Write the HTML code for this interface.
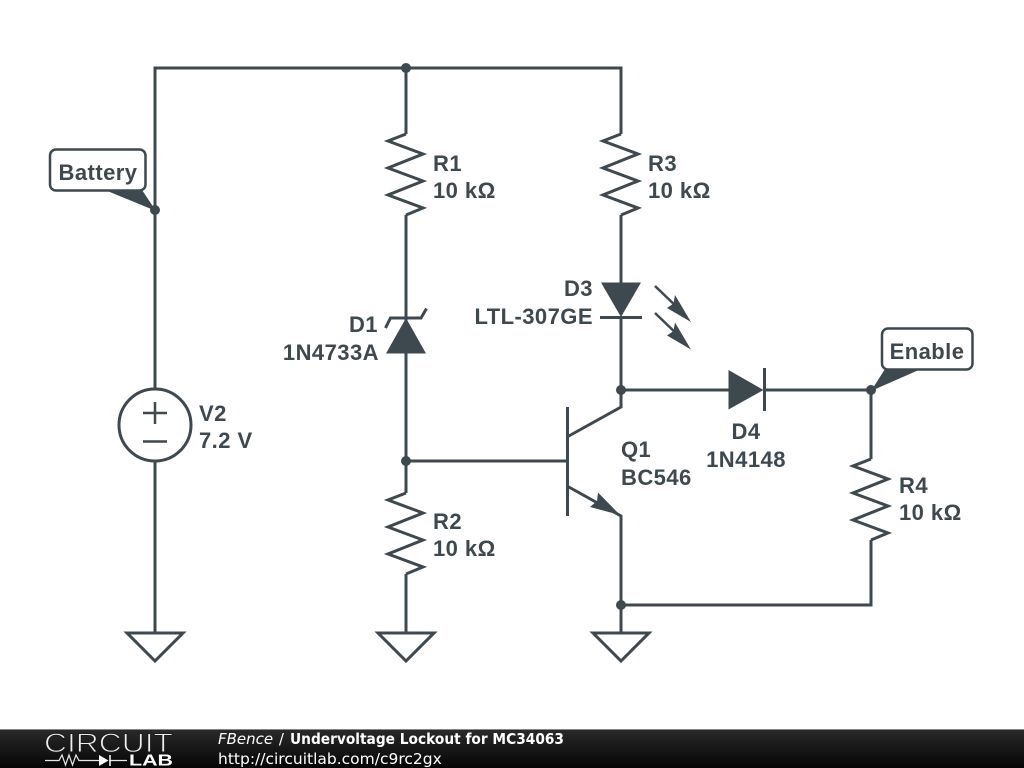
<!DOCTYPE html>
<html>
<head>
<meta charset="utf-8">
<style>
html,body{margin:0;padding:0;background:#fff;width:1024px;height:768px;overflow:hidden}
svg{display:block}
.w{fill:none;stroke:#3e484f;stroke-width:3;stroke-linejoin:miter}
.f{fill:#3e484f;stroke:none}
.t{font-family:"Liberation Sans",Arial,sans-serif;font-size:22px;font-weight:bold;fill:#3e484f;letter-spacing:.45px}
.e{text-anchor:end}
.m{text-anchor:middle}
.ft{font-family:"DejaVu Sans",sans-serif;font-size:15px;fill:#fff}
</style>
</head>
<body>
<svg width="1024" height="768" viewBox="0 0 1024 768" xmlns="http://www.w3.org/2000/svg">
<defs>
<linearGradient id="g" x1="0" y1="0" x2="0" y2="1"><stop offset="0" stop-color="#2a2a2a"/><stop offset="1" stop-color="#050505"/></linearGradient>
<polyline id="res" class="w" points="0,134 -18,141 17,154 -18,168 17,181 -18,195 17,208 0,215"/>
</defs>
<rect width="1024" height="768" fill="#fff"/>

<!-- wires -->
<path class="w" d="M155 389V68H621V134M406 68V134M155 461V633M406 215V493M406 574V633M621 215V285M621 317V407L567 437M567 486L621 516V633M406 461H567M621 390H730M764 390H871M871 390V459M871 540V605H621"/>
<use href="#res" x="406"/>
<use href="#res" x="621"/>
<use href="#res" x="406" y="359"/>
<use href="#res" x="871" y="325"/>

<!-- V2 -->
<circle class="w" cx="155" cy="425" r="36"/>
<path class="w" style="stroke-width:2.500" d="M143 413H167M155 402V424M143 441.500H167"/>

<!-- grounds -->
<path class="w" d="M127 633H183L155 661Z"/>
<path class="w" d="M378 633H434L406 661Z"/>
<path class="w" d="M593 633H649L621 661Z"/>

<!-- D1 -->
<path class="f" d="M386 353.500H426L406 318Z"/>
<path class="w" d="M385.500 328L390.500 318H421L426.500 308.500"/>

<!-- D3 -->
<path class="f" d="M601 282.500H641L621 317Z"/>
<path class="w" d="M600 317.500H642"/>
<path class="w" style="stroke-width:2.500" d="M655 286L680 310M655 313L680 337"/>
<path class="f" d="M691 322L675 295L673.500 303.500L667 308Z"/>
<path class="f" d="M691 349.500L675 322.500L673.500 331L667 335.500Z"/>

<!-- D4 -->
<path class="f" d="M728.500 370V409.500L763.500 390Z"/>
<path class="w" d="M764.500 368V411"/>

<!-- Q1 -->
<path class="w" d="M567.500 407V516"/>
<path class="f" d="M620 515L598 492.500L597 501L590 507Z"/>

<!-- nodes -->
<circle class="f" cx="406" cy="68" r="5"/>
<circle class="f" cx="155" cy="210" r="5"/>
<circle class="f" cx="406" cy="461" r="5"/>
<circle class="f" cx="621" cy="390" r="5"/>
<circle class="f" cx="621" cy="605" r="5"/>
<circle class="f" cx="871" cy="390" r="5"/>

<!-- net labels -->
<path class="f" d="M105 190H142L156 211Z"/>
<rect x="50" y="149.500" width="95.500" height="41" rx="6" fill="#fff" stroke="#3e484f" stroke-width="2.500"/>
<text class="t m" x="98" y="180">Battery</text>
<path class="f" d="M885 369H921L871 391Z"/>
<rect x="882" y="328.500" width="90.500" height="41" rx="6" fill="#fff" stroke="#3e484f" stroke-width="2.500"/>
<text class="t m" x="927" y="359">Enable</text>

<!-- labels -->
<text class="t" x="433" y="171">R1</text><text class="t" x="433" y="198">10 kΩ</text>
<text class="t" x="648" y="171">R3</text><text class="t" x="648" y="198">10 kΩ</text>
<text class="t" x="433" y="529">R2</text><text class="t" x="433" y="556">10 kΩ</text>
<text class="t" x="899" y="493">R4</text><text class="t" x="899" y="520">10 kΩ</text>
<text class="t" x="199" y="421">V2</text><text class="t" x="199" y="448">7.2 V</text>
<text class="t" x="621" y="457">Q1</text><text class="t" x="621" y="485">BC546</text>
<text class="t e" x="378" y="332">D1</text><text class="t e" x="379" y="360">1N4733A</text>
<text class="t e" x="593" y="296">D3</text><text class="t e" x="593" y="324">LTL-307GE</text>
<text class="t m" x="746" y="439">D4</text><text class="t m" x="746" y="467">1N4148</text>

<!-- footer -->
<rect x="0" y="729" width="1024" height="39" fill="url(#g)"/>
<rect x="0" y="729" width="1024" height="1" fill="#888"/>
<text x="44" y="752" font-family="Liberation Sans,sans-serif" font-size="27" fill="#eee" stroke="#1c1c1c" stroke-width="1" textLength="129" lengthAdjust="spacingAndGlyphs">CIRCUIT</text>
<path d="M45 760.500H59L62 755L65.500 765L69 755L72.500 765L76 755L79 760.500H99M110 760.500H127" fill="none" stroke="#e8e8e8" stroke-width="1.200"/>
<path d="M99 755V766L108.500 760.500Z" fill="#fff"/>
<path d="M110 755V766" stroke="#fff" stroke-width="1.500"/>
<text x="129" y="765.500" font-family="Liberation Sans,sans-serif" font-weight="bold" font-size="15.500" fill="#fff" textLength="44" lengthAdjust="spacingAndGlyphs">LAB</text>
<text class="ft" x="218" y="744" font-style="italic">FBence <tspan font-style="normal" dx="1">/</tspan></text>
<text class="ft" x="290" y="744" font-weight="bold" textLength="274" lengthAdjust="spacingAndGlyphs">Undervoltage Lockout for MC34063</text>
<text class="ft" x="218" y="764" style="font-size:15.500px">http://circuitlab.com/c9rc2gx</text>
</svg>
</body>
</html>
